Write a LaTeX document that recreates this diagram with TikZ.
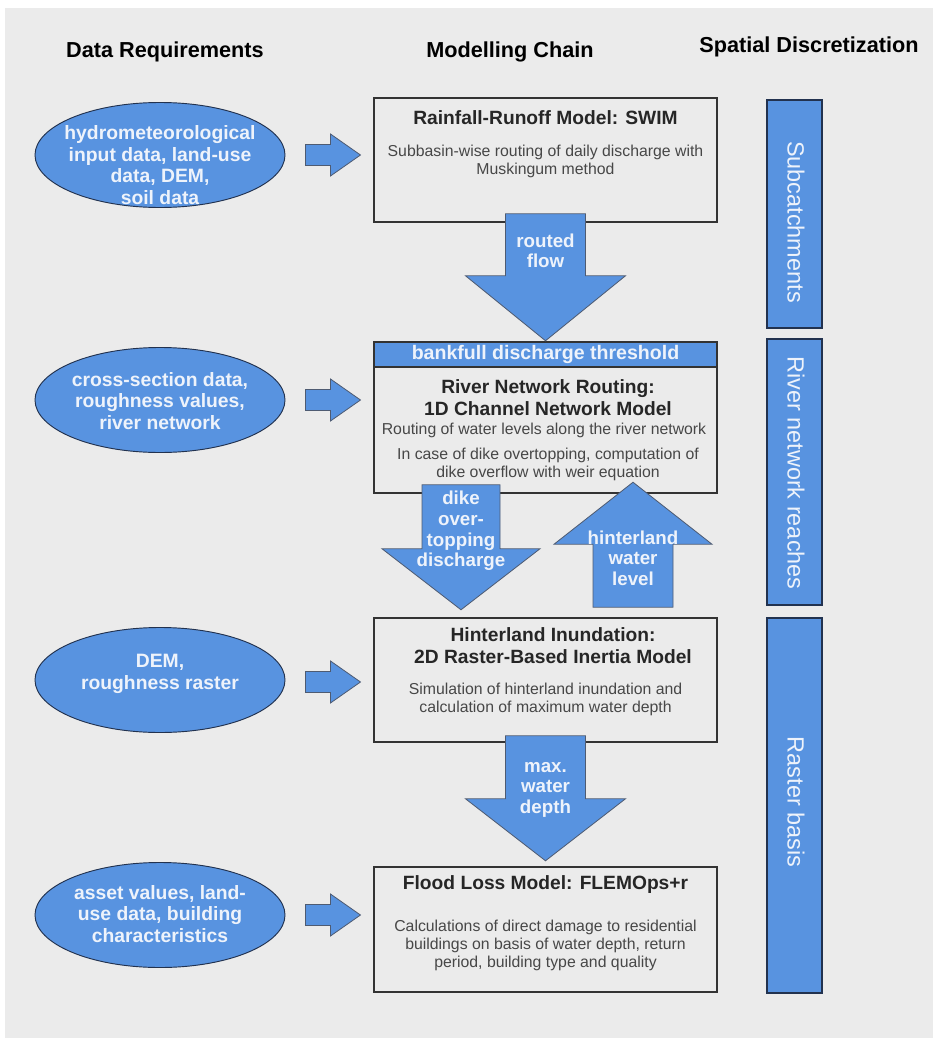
\documentclass[tikz,border=0pt]{standalone}
\usepackage{fontspec}
\setmainfont{Liberation Sans}
\usepackage{tikz}
\usetikzlibrary{shapes.geometric,positioning,calc}
\definecolor{pagegrey}{HTML}{EBEBEB}
\definecolor{flowblue}{HTML}{5893E0}
\definecolor{edgenavy}{HTML}{22324F}
\definecolor{boxline}{HTML}{333333}
\definecolor{inkgrey}{HTML}{262626}
\definecolor{paletext}{HTML}{EEF3FB}
\tikzset{
  hdr/.style={font=\fontsize{18.5}{22}\selectfont\bfseries,text=black,inner sep=0pt},
  req/.style={ellipse,draw=edgenavy,line width=0.8pt,fill=flowblue,
    minimum width=7.5cm,minimum height=3.15cm,inner sep=0pt},
  reqtxt/.style={align=center,text=paletext,font=\fontsize{16.5}{18.5}\selectfont\bfseries,inner sep=0pt},
  model/.style={rectangle,draw=boxline,line width=1.3pt,fill=pagegrey,
    minimum width=10.29cm,minimum height=#1,inner sep=0pt},
  bankbar/.style={rectangle,draw=boxline,line width=1.3pt,fill=flowblue,
    minimum width=10.29cm,minimum height=0.75cm,inner sep=0pt,
    text=paletext,font=\fontsize{16.7}{18}\selectfont\bfseries},
  ttl/.style={align=center,text=inkgrey,font=\fontsize{16.4}{18.8}\selectfont\bfseries,inner sep=0pt},
  body/.style={align=center,text=inkgrey!85,font=\fontsize{13.5}{15.3}\selectfont,inner sep=0pt},
  blk/.style={fill=flowblue,draw=edgenavy!80,line width=0.7pt,line join=miter},
  blktxt/.style={align=center,text=paletext,font=\fontsize{16}{17.8}\selectfont\bfseries,inner sep=0pt},
  zone/.style={rectangle,draw=edgenavy,line width=1.2pt,fill=flowblue,
    minimum width=1.65cm,minimum height=#1,inner sep=0pt},
  zonetxt/.style={rotate=-90,text=paletext,font=\fontsize{20}{22}\selectfont,inner sep=0pt},
}
\begin{document}
\begin{tikzpicture}[x=0.03cm,y=-0.03cm]
  \useasboundingbox (0,0) rectangle (933,1038);
  \fill[white] (0,0) rectangle (933,1038);
  \fill[pagegrey] (5,8) rectangle (933,1038);

  % column heads
  \node[hdr] (hreq) at (165,52) {Data Requirements};
  \node[hdr] (hmod) at (510,52) {Modelling Chain};
  \node[hdr] (hspa) at (809,47) {Spatial Discretization};

  % data requirements
  \node[req] (e1) at (160,155) {};
  \node[reqtxt] (e1t) at (160,165) {hydrometeorological\\input data, land-use\\data, DEM,\\soil data};
  \node[req] (e2) at (160,400) {};
  \node[reqtxt] (e2t) at (160,401) {cross-section data,\\roughness values,\\river network};
  \node[req] (e3) at (160,680) {};
  \node[reqtxt] (e3t) at (160,674) {DEM,\\roughness raster};
  \node[req] (e4) at (160,915) {};
  \node[reqtxt] (e4t) at (160,914) {asset values, land-\\use data, building\\characteristics};

  % modelling chain
  \node[model=3.72cm] (rr) at (545.5,160) {};
  \node[ttl] (rrT) at (545.5,118) {Rainfall-Runoff Model: SWIM};
  \node[body] (rrB) at (545.5,161.5) {Subbasin-wise routing of daily discharge with\\Muskingum method};

  \node[bankbar] (bank) at (545.5,354.5) {bankfull discharge threshold};
  \node[model=3.78cm] (rnr) at (545.5,430) {};
  \node[ttl] (rnrT) at (548,398) {River Network Routing:\\1D Channel Network Model};
  \node[body] (rnrB) at (544,430) {Routing of water levels along the river network};
  \node[body] (rnrC) at (548,464) {In case of dike overtopping, computation of\\dike overflow with weir equation};

  \node[model=3.72cm] (hi) at (545.5,680) {};
  \node[ttl] (hiT) at (553,646) {Hinterland Inundation:\\2D Raster-Based Inertia Model};
  \node[body] (hiB) at (545.5,699) {Simulation of hinterland inundation and\\calculation of maximum water depth};

  \node[model=3.75cm] (fl) at (545.5,929.5) {};
  \node[ttl] (flT) at (545.5,885) {Flood Loss Model: FLEMOps+r};
  \node[body] (flB) at (545.5,945) {Calculations of direct damage to residential\\buildings on basis of water depth, return\\period, building type and quality};

  % spatial discretization
  \node[zone=6.84cm] (zsub) at (794.5,214) {};
  \node[zonetxt] (zsubT) at (796,222) {Subcatchments};
  \node[zone=7.98cm] (zriv) at (794.5,472) {};
  \node[zonetxt] (zrivT) at (796,473) {River network reaches};
  \node[zone=11.25cm] (zras) at (794.5,805.5) {};
  \node[zonetxt] (zrasT) at (796,802) {Raster basis};

  % input arrows
  \draw[blk] ($(e1.east)+(20,-10.5)$) -- ++(25,0) -- ++(0,-10.5) -- ++(30,21) -- ++(-30,21) -- ++(0,-10.5) -- ++(-25,0) -- cycle;
  \draw[blk] ($(e2.east)+(20,-10.5)$) -- ++(25,0) -- ++(0,-10.5) -- ++(30,21) -- ++(-30,21) -- ++(0,-10.5) -- ++(-25,0) -- cycle;
  \draw[blk] ($(e3.east)+(20,-8.5)$) -- ++(25,0) -- ++(0,-10.5) -- ++(30,21) -- ++(-30,21) -- ++(0,-10.5) -- ++(-25,0) -- cycle;
  \draw[blk] ($(e4.east)+(20,-10.5)$) -- ++(25,0) -- ++(0,-10.5) -- ++(30,21) -- ++(-30,21) -- ++(0,-10.5) -- ++(-25,0) -- cycle;

  % chain arrows
  \draw[blk] ($(rr.south)+(-40,-9)$) -- ++(80,0) -- ++(0,62) -- ++(40,0) -- ++(-80,65) -- ++(-80,-65) -- ++(40,0) -- cycle;
  \node[blktxt] (rflow) at ($(rr.south)+(0,28)$) {routed\\flow};

  \draw[blk] ($(rnr.south)+(-123.5,-9)$) -- ++(78,0) -- ++(0,64) -- ++(40,0) -- ++(-79,61) -- ++(-79,-61) -- ++(40,0) -- cycle;
  \node[blktxt] (dike) at ($(rnr.south)+(-84.5,37)$) {dike\\over-\\topping\\discharge};

  \draw[blk] ($(hi.north)+(47.5,-10)$) -- ++(80,0) -- ++(0,-63) -- ++(39,0) -- ++(-79,-62) -- ++(-79,62) -- ++(39,0) -- cycle;
  \node[blktxt] (hwl) at ($(hi.north)+(87.5,-59)$) {hinterland\\water\\level};

  \draw[blk] ($(hi.south)+(-40,-7)$) -- ++(80,0) -- ++(0,63) -- ++(40,0) -- ++(-80,62) -- ++(-80,-62) -- ++(40,0) -- cycle;
  \node[blktxt] (mwd) at ($(hi.south)+(0,47)$) {max.\\water\\depth};
\end{tikzpicture}
\end{document}
